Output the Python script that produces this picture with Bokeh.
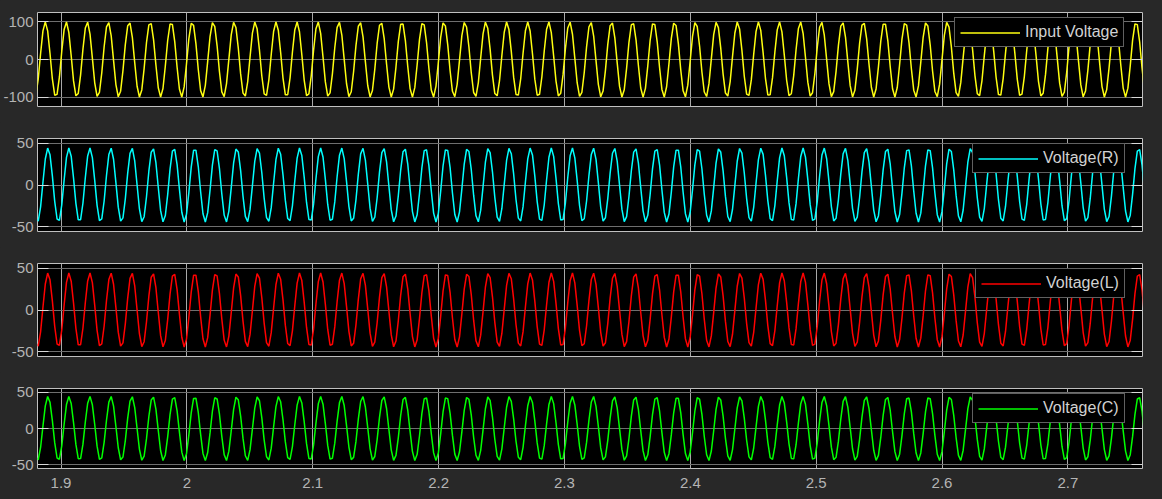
import numpy as np
from bokeh.plotting import figure
from bokeh.layouts import column
from bokeh.models import FixedTicker, Range1d, LinearAxis, Legend, LegendItem, Grid
from bokeh.embed import file_html
from bokeh.resources import INLINE

# ---- data ----
x_start, x_end = 1.8813, 2.7593
x_ticks = [1.9, 2.0, 2.1, 2.2, 2.3, 2.4, 2.5, 2.6, 2.7]
x_tick_labels = ["1.9", "2", "2.1", "2.2", "2.3", "2.4", "2.5", "2.6", "2.7"]

series_names = ["Input Voltage", "Voltage(R)", "Voltage(L)", "Voltage(C)"]
series_colors = ["#ffff11", "#00ffff", "#ff0000", "#00ff00"]
amplitudes = [100.0, 44.6, 44.6, 44.6]          # peak values (V)
frequency_hz = 60.0
peak_time_s = [1.8875, 1.8896, 1.8896, 1.8896]  # time of first visible peak
sample_step_s = 0.00187                          # scope sample spacing
y_limits = [(-125, 125), (-56, 56), (-56, 56), (-55.5, 55.5)]
y_ticks = [[-100, 0, 100], [-50, 0, 50], [-50, 0, 50], [-50, 0, 50]]

# ---- style ----
BG = "#282828"
TXT = "#b4b4b4"
EDGE = "#c0c0c0"
FONT = "Liberation Sans"

frame_heights = [94, 93, 93, 80]
tops = [12, 16, 16, 16]
bottoms = [16, 16, 16, 31]
legend_left = [917, 935, 938, 935]   # legend box left edge offsets from frame left (px)
legend_height = 27

k0 = int(np.floor((x_start - peak_time_s[0]) / sample_step_s)) - 1
k1 = int(np.ceil((x_end - peak_time_s[0]) / sample_step_s)) + 1
t = peak_time_s[0] + sample_step_s * np.arange(k0, k1 + 1)

figs = []
for i in range(4):
    show_x = (i == 3)
    p = figure(frame_width=1105, frame_height=frame_heights[i],
               min_border_left=36, min_border_right=21,
               min_border_top=tops[i], min_border_bottom=bottoms[i],
               x_range=Range1d(x_start, x_end), y_range=Range1d(*y_limits[i]),
               output_backend="svg", toolbar_location=None,
               x_axis_location="below" if show_x else None,
               background_fill_color="black", border_fill_color=BG,
               outline_line_color=EDGE, outline_line_width=1)
    p.xgrid.visible = False
    p.ygrid.visible = False
    p.add_layout(Grid(dimension=0, ticker=FixedTicker(ticks=x_ticks),
                      grid_line_color="#a8a8a8", grid_line_width=1), "center")
    p.add_layout(Grid(dimension=1, ticker=FixedTicker(ticks=y_ticks[i]),
                      grid_line_color="#6e6e6e", grid_line_width=1), "center")

    ya = p.yaxis[0]
    ya.ticker = FixedTicker(ticks=y_ticks[i])
    ya.major_label_overrides = {v: str(v) for v in y_ticks[i]}
    ya.major_tick_in = 11
    ya.major_tick_out = 0
    ya.minor_tick_line_color = None
    ya.axis_line_color = None
    ya.major_tick_line_color = "#d8d8d8"
    ya.major_label_standoff = 4
    ya.major_label_text_color = TXT
    ya.major_label_text_font = FONT
    ya.major_label_text_font_size = "15px"

    ra = LinearAxis(ticker=FixedTicker(ticks=y_ticks[i]),
                    major_label_overrides={v: "" for v in y_ticks[i]},
                    major_tick_in=11, major_tick_out=0, minor_tick_line_color=None,
                    axis_line_color=None, major_tick_line_color="#d8d8d8",
                    major_label_standoff=0, major_label_text_font_size="1px")
    p.add_layout(ra, "right")

    if show_x:
        xa = p.xaxis[0]
        xa.ticker = FixedTicker(ticks=x_ticks)
        xa.major_label_overrides = dict(zip(x_ticks, x_tick_labels))
        xa.major_tick_in = 0
        xa.major_tick_out = 0
        xa.minor_tick_line_color = None
        xa.axis_line_color = None
        xa.major_label_standoff = 9
        xa.major_label_text_color = TXT
        xa.major_label_text_font = FONT
        xa.major_label_text_font_size = "15px"

    y = amplitudes[i] * np.sin(2 * np.pi * frequency_hz * (t - peak_time_s[i]) + np.pi / 2)
    r = p.line(t, y, line_color=series_colors[i], line_width=1.5)

    lg = Legend(items=[LegendItem(label=series_names[i], renderers=[r])],
                location=(legend_left[i], frame_heights[i] - 8 - legend_height),
                background_fill_color="black", background_fill_alpha=1.0,
                border_line_color=EDGE, border_line_width=1,
                label_text_color="#d2d2d2", label_text_font=FONT,
                label_text_font_size="16px", glyph_width=60, glyph_height=15,
                label_height=15, label_standoff=5, padding=5, margin=0, spacing=0)
    p.add_layout(lg, "center")
    figs.append(p)

layout = column(*figs, spacing=0, styles={"background-color": BG})
open("out.html", "w").write(file_html(layout, INLINE))
